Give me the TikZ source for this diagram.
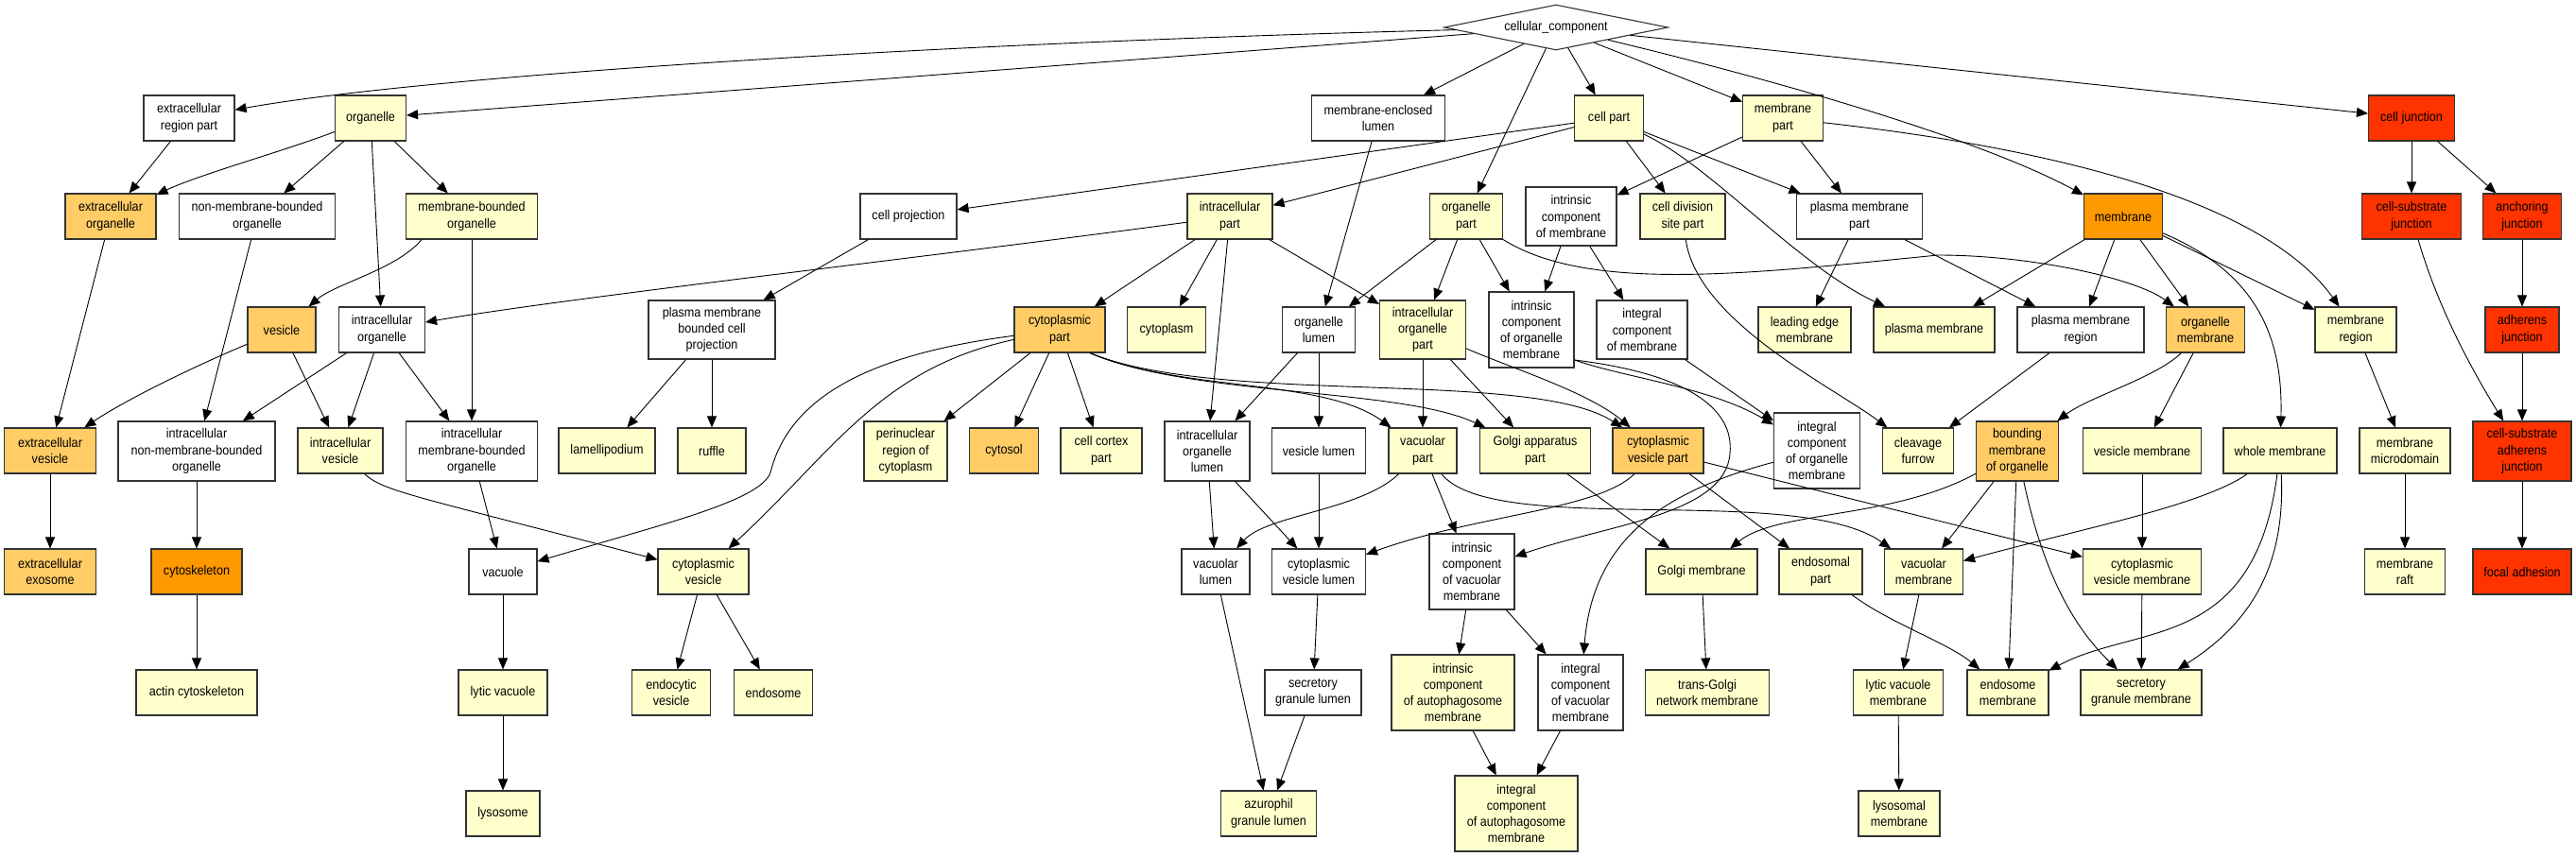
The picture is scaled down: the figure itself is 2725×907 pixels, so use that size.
\documentclass[tikz,border=0pt]{standalone}
\usepackage{fontspec}
\newfontfamily\gofont[FakeStretch=0.9]{Liberation Sans}
\usetikzlibrary{shapes.geometric,arrows.meta}
\definecolor{ycol}{HTML}{FFFFCC}
\definecolor{ocol}{HTML}{FFCC66}
\definecolor{Ocol}{HTML}{FF9900}
\definecolor{rcol}{HTML}{FF3300}
\newcommand\GOnode[7]{\node[#1,minimum width=#2pt,minimum height=#3pt] (#4) at (#5,#6) {#7};}
\begin{document}
\begin{tikzpicture}[x=1pt,y=-1pt,
  gobox/.style={draw=black!80, line width=1.1pt, rectangle, inner sep=1pt, align=center,
    font={\gofont\fontsize{14pt}{17.3pt}\selectfont}},
  wnode/.style={gobox, fill=white},
  ynode/.style={gobox, fill=ycol},
  onode/.style={gobox, fill=ocol},
  Onode/.style={gobox, fill=Ocol},
  rnode/.style={gobox, fill=rcol},
  edg/.style={draw=black, line width=0.9pt, -{Triangle[length=12pt,width=10pt]}}]
\fill[white] (0,0) rectangle (2725,907);
\useasboundingbox (0,0) rectangle (2725,907);

\node[diamond, draw=black!80, line width=1.1pt, fill=white, aspect=4.9, inner sep=0pt,
  minimum width=237pt, minimum height=48pt, font={\gofont\fontsize{14pt}{17.3pt}\selectfont}]
  (cc) at (1646,29) {cellular\_component};

% row 1
\GOnode{wnode}{96}{48}{ecrp}{200}{125}{extracellular\\region part}
\GOnode{ynode}{75}{48}{org}{392}{125}{organelle}
\GOnode{wnode}{141}{48}{mel}{1458}{125}{membrane-enclosed\\lumen}
\GOnode{ynode}{73}{48}{cpart}{1702}{125}{cell part}
\GOnode{ynode}{85}{48}{mpart}{1886}{125}{membrane\\part}
\GOnode{rnode}{91}{48}{cj}{2551}{125}{cell junction}
% row 2
\GOnode{onode}{96}{48}{eco}{117}{229}{extracellular\\organelle}
\GOnode{wnode}{165}{48}{nmbo}{272}{229}{non-membrane-bounded\\organelle}
\GOnode{ynode}{139}{48}{mbo}{499}{229}{membrane-bounded\\organelle}
\GOnode{wnode}{102}{48}{cproj}{961}{229}{cell projection}
\GOnode{ynode}{90}{48}{icp}{1301}{229}{intracellular\\part}
\GOnode{ynode}{77}{48}{opart}{1551}{229}{organelle\\part}
\GOnode{wnode}{96}{62}{icm}{1662}{229}{intrinsic\\component\\of membrane}
\GOnode{ynode}{90}{48}{cdsp}{1780}{229}{cell division\\site part}
\GOnode{wnode}{133}{48}{pmp}{1967}{229}{plasma membrane\\part}
\GOnode{Onode}{83}{48}{mem}{2246}{229}{membrane}
\GOnode{rnode}{105}{48}{csj}{2551}{229}{cell-substrate\\junction}
\GOnode{rnode}{83}{48}{aj}{2668}{229}{anchoring\\junction}
% row 3
\GOnode{onode}{72}{48}{ves}{298}{349}{vesicle}
\GOnode{wnode}{91}{48}{io}{404}{349}{intracellular\\organelle}
\GOnode{wnode}{134}{62}{pmbcp}{753}{349}{plasma membrane\\bounded cell\\projection}
\GOnode{onode}{96}{48}{cyp}{1121}{349}{cytoplasmic\\part}
\GOnode{ynode}{83}{48}{cyt}{1234}{349}{cytoplasm}
\GOnode{wnode}{77}{48}{ol}{1395}{349}{organelle\\lumen}
\GOnode{ynode}{91}{62}{iop}{1505}{349}{intracellular\\organelle\\part}
\GOnode{wnode}{90}{80}{icom}{1620}{349}{intrinsic\\component\\of organelle\\membrane}
\GOnode{wnode}{96}{62}{igcm}{1737}{349}{integral\\component\\of membrane}
\GOnode{ynode}{98}{48}{lem}{1909}{349}{leading edge\\membrane}
\GOnode{ynode}{128}{48}{pm}{2046}{349}{plasma membrane}
\GOnode{wnode}{134}{48}{pmr}{2201}{349}{plasma membrane\\region}
\GOnode{onode}{83}{48}{om}{2333}{349}{organelle\\membrane}
\GOnode{ynode}{86}{48}{mr}{2492}{349}{membrane\\region}
\GOnode{rnode}{78}{48}{adj}{2668}{349}{adherens\\junction}
% row 4
\GOnode{onode}{97}{48}{ecv}{53}{477}{extracellular\\vesicle}
\GOnode{wnode}{166}{63}{inmbo}{208}{477.5}{intracellular\\non-membrane-bounded\\organelle}
\GOnode{ynode}{90}{48}{iv}{360}{477}{intracellular\\vesicle}
\GOnode{wnode}{139}{63}{imbo}{499}{477.5}{intracellular\\membrane-bounded\\organelle}
\GOnode{ynode}{102}{48}{lam}{642}{477}{lamellipodium}
\GOnode{ynode}{72}{48}{ruf}{753}{477}{ruffle}
\GOnode{ynode}{88}{63}{peri}{958}{477.5}{perinuclear\\region of\\cytoplasm}
\GOnode{onode}{73}{48}{cytosol}{1062}{477}{cytosol}
\GOnode{ynode}{86}{48}{ccp}{1165}{477}{cell cortex\\part}
\GOnode{wnode}{90}{63}{iol}{1277}{477.5}{intracellular\\organelle\\lumen}
\GOnode{wnode}{99}{48}{vl}{1395}{477}{vesicle lumen}
\GOnode{ynode}{72}{48}{vp}{1505}{477}{vacuolar\\part}
\GOnode{ynode}{117}{48}{gap}{1624}{477}{Golgi apparatus\\part}
\GOnode{onode}{96}{48}{cvp}{1754}{477}{cytoplasmic\\vesicle part}
\GOnode{wnode}{91}{80}{igcom}{1922}{477}{integral\\component\\of organelle\\membrane}
\GOnode{ynode}{75}{48}{cf}{2029}{477}{cleavage\\furrow}
\GOnode{onode}{87}{63}{bmo}{2134}{477.5}{bounding\\membrane\\of organelle}
\GOnode{ynode}{125}{48}{vm}{2266}{477}{vesicle membrane}
\GOnode{ynode}{120}{48}{wm}{2412}{477}{whole membrane}
\GOnode{ynode}{96}{48}{mmd}{2544}{477}{membrane\\microdomain}
\GOnode{rnode}{104}{63}{csaj}{2668}{477.5}{cell-substrate\\adherens\\junction}
% row 5
\GOnode{onode}{97}{48}{eex}{53}{605}{extracellular\\exosome}
\GOnode{Onode}{96}{48}{csk}{208}{605}{cytoskeleton}
\GOnode{wnode}{72}{48}{vac}{532}{605}{vacuole}
\GOnode{ynode}{96}{48}{cv}{744}{605}{cytoplasmic\\vesicle}
\GOnode{wnode}{72}{48}{vlum}{1286}{605}{vacuolar\\lumen}
\GOnode{wnode}{99}{48}{cvl}{1395}{605}{cytoplasmic\\vesicle lumen}
\GOnode{wnode}{90}{80}{icvm}{1557}{605}{intrinsic\\component\\of vacuolar\\membrane}
\GOnode{ynode}{118}{48}{gm}{1800}{605}{Golgi membrane}
\GOnode{ynode}{88}{48}{ep}{1926}{605}{endosomal\\part}
\GOnode{ynode}{83}{48}{vacm}{2035}{605}{vacuolar\\membrane}
\GOnode{ynode}{125}{48}{cvm}{2266}{605}{cytoplasmic\\vesicle membrane}
\GOnode{ynode}{85}{48}{raft}{2544}{605}{membrane\\raft}
\GOnode{rnode}{104}{48}{fa}{2668}{605}{focal adhesion}
% row 6
\GOnode{ynode}{128}{48}{acsk}{208}{733}{actin cytoskeleton}
\GOnode{ynode}{94}{48}{lv}{532}{733}{lytic vacuole}
\GOnode{ynode}{83}{48}{ev}{710}{733}{endocytic\\vesicle}
\GOnode{ynode}{83}{48}{endo}{818}{733}{endosome}
\GOnode{wnode}{102}{48}{sgl}{1389}{733}{secretory\\granule lumen}
\GOnode{ynode}{130}{80}{icam}{1537}{733}{intrinsic\\component\\of autophagosome\\membrane}
\GOnode{wnode}{90}{80}{igvm}{1672}{733}{integral\\component\\of vacuolar\\membrane}
\GOnode{ynode}{131}{48}{tgn}{1806}{733}{trans-Golgi\\network membrane}
\GOnode{ynode}{95}{48}{lvm}{2008}{733}{lytic vacuole\\membrane}
\GOnode{ynode}{86}{48}{endm}{2124}{733}{endosome\\membrane}
\GOnode{ynode}{128}{48}{sgm}{2265}{733}{secretory\\granule membrane}
% row 7
\GOnode{ynode}{78}{48}{lyso}{532}{861}{lysosome}
\GOnode{ynode}{101}{48}{agl}{1342}{861}{azurophil\\granule lumen}
\GOnode{ynode}{130}{80}{igam}{1604}{861}{integral\\component\\of autophagosome\\membrane}
\GOnode{ynode}{86}{48}{lysm}{2009}{861}{lysosomal\\membrane}

% straight edges
\foreach \a/\b in {cc/mel,cc/opart,cc/cpart,cc/mpart,cc/org,cc/cj,
  ecrp/eco,org/nmbo,org/io,org/mbo,mel/ol,
  cpart/cproj,cpart/icp,cpart/cdsp,cpart/pmp,mpart/icm,mpart/pmp,cj/csj,cj/aj,
  eco/ecv,nmbo/inmbo,mbo/imbo,cproj/pmbcp,icp/cyp,icp/cyt,icp/iol,icp/iop,
  opart/ol,opart/iop,opart/icom,icm/icom,icm/igcm,pmp/lem,pmp/pmr,
  mem/pm,mem/pmr,mem/om,mem/mr,aj/adj,ves/iv,io/inmbo,io/iv,io/imbo,
  pmbcp/lam,pmbcp/ruf,cyp/peri,cyp/cytosol,cyp/ccp,ol/iol,ol/vl,iop/vp,iop/gap,
  igcm/igcom,pmr/cf,om/vm,mr/mmd,adj/csaj,ecv/eex,inmbo/csk,imbo/vac,
  iol/vlum,iol/cvl,vl/cvl,vp/icvm,gap/gm,cvp/ep,cvp/cvm,bmo/vacm,bmo/endm,
  vm/cvm,mmd/raft,csaj/fa,csk/acsk,vac/lv,cv/ev,cv/endo,cvl/sgl,vlum/agl,
  icvm/icam,icvm/igvm,gm/tgn,vacm/lvm,cvm/sgm,lv/lyso,sgl/agl,icam/igam,
  igvm/igam,lvm/lysm}
  \draw[edg] (\a) -- (\b);

% curved edges
\draw[edg] (cc) .. controls (1000,45) and (450,80) .. (ecrp);
\draw[edg] (cc) .. controls (1900,90) and (2100,150) .. (mem);
\draw[edg] (cpart) .. controls (1810,175) and (1900,280) .. (pm);
\draw[edg] (mpart) .. controls (2200,160) and (2400,220) .. (mr);
\draw[edg] (opart) .. controls (1680,310) and (1850,290) .. (2050,270) .. controls (2150,270) and (2260,295) .. (om);
\draw[edg] (cdsp) .. controls (1795,340) and (1940,410) .. (cf);
\draw[edg] (mem) .. controls (2390,290) and (2415,360) .. (wm);
\draw[edg] (org) .. controls (300,160) and (210,185) .. (eco);
\draw[edg] ([xshift=-53pt]mbo.south) .. controls (420,285) and (355,300) .. (ves);
\draw[edg] (ves) .. controls (200,390) and (130,425) .. (ecv);
\draw[edg] (icp) .. controls (1000,270) and (600,315) .. (io);
\draw[edg] (cyp) .. controls (920,375) and (835,420) .. (815,500) .. controls (805,530) and (700,555) .. (vac);
\draw[edg] (cyp) .. controls (930,390) and (880,480) .. (cv);
\draw[edg] ([xshift=32pt]cyp.south) .. controls (1250,415) and (1400,400) .. (vp);
\draw[edg] ([xshift=32pt]cyp.south) .. controls (1260,420) and (1480,410) .. (gap);
\draw[edg] ([xshift=32pt]cyp.south) .. controls (1290,430) and (1620,390) .. (cvp);
\draw[edg] (iop) .. controls (1600,390) and (1680,415) .. (cvp);
\draw[edg] ([yshift=-32pt]icom.east) .. controls (1720,400) and (1810,410) .. (igcom);
\draw[edg] ([yshift=-32pt]icom.east) .. controls (1780,395) and (1835,430) .. (1830,480) .. controls (1825,545) and (1700,555) .. (icvm);
\draw[edg] (iv) .. controls (405,520) and (440,525) .. (cv);
\draw[edg] (vp) .. controls (1440,540) and (1340,545) .. (vlum);
\draw[edg] (vp) .. controls (1580,570) and (1900,510) .. (vacm);
\draw[edg] (cvp) .. controls (1690,540) and (1560,545) .. (cvl);
\draw[edg] (igcom) .. controls (1760,520) and (1685,570) .. (igvm);
\draw[edg] (bmo) .. controls (2000,550) and (1880,540) .. (gm);
\draw[edg] (bmo) .. controls (2160,600) and (2190,660) .. (sgm);
\draw[edg] (ep) .. controls (2000,660) and (2060,680) .. (endm);
\draw[edg] (wm) .. controls (2330,535) and (2200,560) .. (vacm);
\draw[edg] (wm) .. controls (2385,690) and (2260,660) .. (endm);
\draw[edg] (wm) .. controls (2418,600) and (2380,660) .. (sgm);
\draw[edg] (csj) .. controls (2580,330) and (2620,400) .. (csaj);
\draw[edg] (om) .. controls (2280,400) and (2210,420) .. (bmo);
\end{tikzpicture}
\end{document}
